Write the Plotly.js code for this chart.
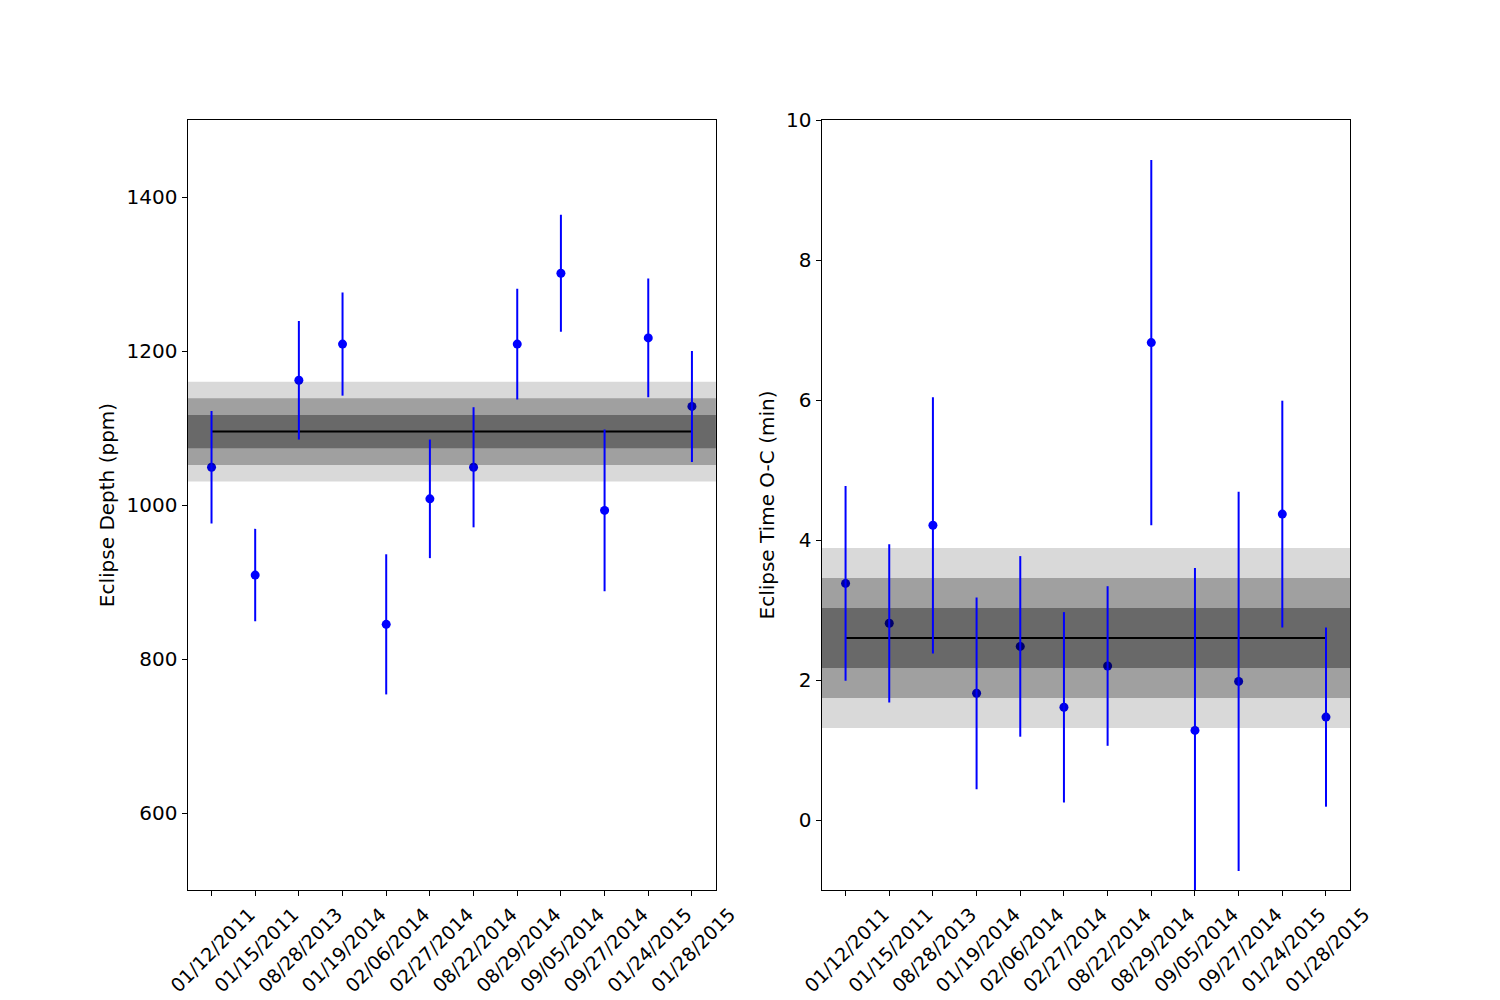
<!DOCTYPE html>
<html>
<head>
<meta charset="utf-8">
<script src="https://cdn.plot.ly/plotly-3.0.1.min.js"></script>
<style>
  html, body { margin: 0; padding: 0; background: #ffffff; }
  #chart { width: 1500px; height: 1000px; }
</style>
</head>
<body>
<div id="chart"></div>
<script>
// Observation dates (one per eclipse visit)
const dates = ["01/12/2011", "01/15/2011", "08/28/2013", "01/19/2014", "02/06/2014", "02/27/2014",
               "08/22/2014", "08/29/2014", "09/05/2014", "09/27/2014", "01/24/2015", "01/28/2015"];

// Eclipse depth per visit (ppm) and 1-sigma uncertainty
const depth    = [1049, 909, 1162, 1209, 845, 1008, 1049, 1209, 1301, 993, 1217, 1128];
const depthErr = [73, 60, 77, 67, 91, 77, 78, 72, 76, 105, 77, 72];
// Weighted mean depth and its uncertainty
const depthMean = 1095.3;
const depthSigma = 21.6;

// Eclipse timing offset O-C per visit (minutes) and 1-sigma uncertainty
const timing    = [3.38, 2.81, 4.21, 1.81, 2.48, 1.61, 2.20, 6.82, 1.28, 1.98, 4.37, 1.47];
const timingErr = [1.39, 1.13, 1.83, 1.37, 1.29, 1.36, 1.14, 2.61, 2.32, 2.71, 1.62, 1.28];
const timingMean = 2.60;
const timingSigma = 0.428;

const idx = dates.map((_, i) => i);
const pad = 0.55;
const xRange = [-pad, dates.length - 1 + pad];

// Shaded 1/2/3-sigma bands: translucent black layers stacked on top of each other
const bandAlpha = { 3: 0.149, 2: 0.263, 1: 0.344 };

function panelTraces(vals, errs, mean, sigma, xa, ya) {
  const out = [];
  // data points (drawn below the bands so the bands tint them)
  out.push({
    type: 'scatter', mode: 'markers', x: idx, y: vals, xaxis: xa, yaxis: ya,
    marker: { color: '#0000ff', size: 9 }, showlegend: false, hoverinfo: 'skip'
  });
  [3, 2, 1].forEach(k => {
    const lo = mean - k * sigma, hi = mean + k * sigma;
    out.push({
      type: 'scatter', mode: 'lines', xaxis: xa, yaxis: ya,
      x: [xRange[0], xRange[1], xRange[1], xRange[0], xRange[0]],
      y: [lo, lo, hi, hi, lo],
      fill: 'toself', fillcolor: 'rgba(0,0,0,' + bandAlpha[k] + ')',
      line: { width: 0 }, showlegend: false, hoverinfo: 'skip'
    });
  });
  // mean value
  out.push({
    type: 'scatter', mode: 'lines', xaxis: xa, yaxis: ya,
    x: [idx[0], idx[idx.length - 1]], y: [mean, mean],
    line: { color: '#000000', width: 2 }, showlegend: false, hoverinfo: 'skip'
  });
  // error bars on top
  out.push({
    type: 'scatter', mode: 'markers', x: idx, y: vals, xaxis: xa, yaxis: ya,
    marker: { color: '#0000ff', size: 9, opacity: 0 },
    error_y: { type: 'data', array: errs, visible: true, color: '#0000ff', thickness: 2, width: 0 },
    showlegend: false, hoverinfo: 'skip'
  });
  return out;
}

const traces = [].concat(
  panelTraces(depth, depthErr, depthMean, depthSigma, 'x', 'y'),
  panelTraces(timing, timingErr, timingMean, timingSigma, 'x2', 'y2')
);

const font = { family: 'DejaVu Sans, sans-serif', size: 20, color: '#000000' };
const xTickFont = { family: 'DejaVu Sans, sans-serif', size: 19, color: '#000000' };

function xAxis(domain, anchor) {
  return {
    domain: domain, anchor: anchor, range: xRange, type: 'linear',
    tickmode: 'array', tickvals: idx, ticktext: dates, tickangle: -45,
    ticklabelshift: 38,
    ticks: 'outside', ticklen: 5, tickwidth: 1, tickcolor: '#000',
    showline: true, mirror: true, linecolor: '#000', linewidth: 1,
    showgrid: false, zeroline: false, tickfont: xTickFont
  };
}
function yAxis(anchor, range, tickvals, title) {
  return {
    domain: [0.11, 0.88], anchor: anchor, range: range,
    tickmode: 'array', tickvals: tickvals,
    ticks: 'outside', ticklen: 5, tickwidth: 1, tickcolor: '#000',
    showline: true, mirror: true, linecolor: '#000', linewidth: 1,
    showgrid: false, zeroline: false, tickfont: font,
    title: { text: title, font: font, standoff: 6 }
  };
}

const layout = {
  width: 1500, height: 1000,
  margin: { l: 0, r: 0, t: 0, b: 0 },
  paper_bgcolor: '#ffffff', plot_bgcolor: '#ffffff',
  showlegend: false,
  font: font,
  xaxis: xAxis([0.125, 0.4773], 'y'),
  yaxis: yAxis('x', [500, 1500], [600, 800, 1000, 1200, 1400], 'Eclipse Depth (ppm)'),
  xaxis2: xAxis([0.5477, 0.9], 'y2'),
  yaxis2: yAxis('x2', [-1, 10], [0, 2, 4, 6, 8, 10], 'Eclipse Time O-C (min)')
};

Plotly.newPlot('chart', traces, layout, { staticPlot: true });
</script>
</body>
</html>
